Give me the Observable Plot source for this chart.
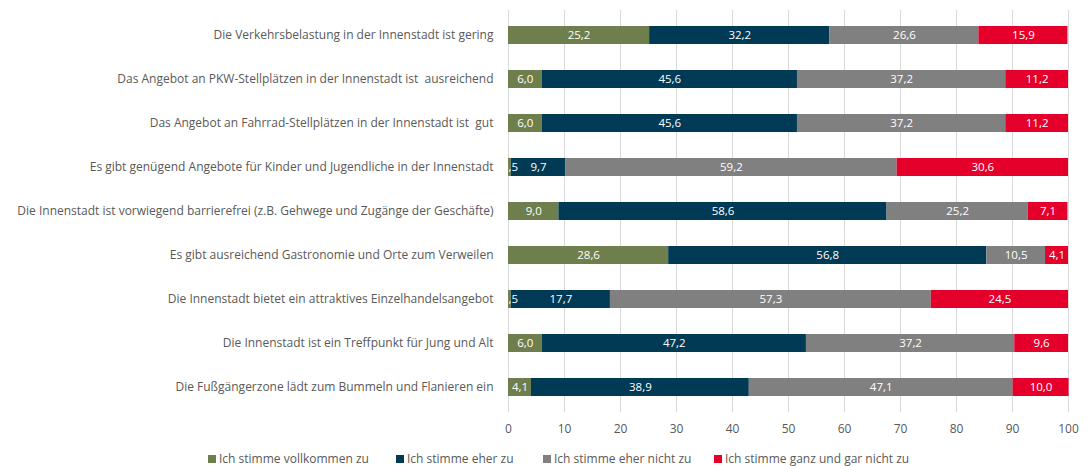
<!DOCTYPE html>
<html>
<head>
<meta charset="utf-8">
<script src="https://cdn.jsdelivr.net/npm/d3@7"></script>
<script src="https://cdn.jsdelivr.net/npm/@observablehq/plot@0.6"></script>
<style>
  body { margin: 0; background: #fff; font-family: "Open Sans", sans-serif; }
  #legend { position: relative; height: 20px; font-size: 12px; color: #595959; }
  .item { position: absolute; top: 4px; display: flex; align-items: center; }
  .sw { width: 8px; height: 8px; margin-right: 3px; }
</style>
</head>
<body>
<div id="chart"></div>
<div id="legend"></div>
<script>
const categories = [
  "Die Verkehrsbelastung in der Innenstadt ist gering",
  "Das Angebot an PKW-Stellplätzen in der Innenstadt ist  ausreichend",
  "Das Angebot an Fahrrad-Stellplätzen in der Innenstadt ist  gut",
  "Es gibt genügend Angebote für Kinder und Jugendliche in der Innenstadt",
  "Die Innenstadt ist vorwiegend barrierefrei (z.B. Gehwege und Zugänge der Geschäfte)",
  "Es gibt ausreichend Gastronomie und Orte zum Verweilen",
  "Die Innenstadt bietet ein attraktives Einzelhandelsangebot",
  "Die Innenstadt ist ein Treffpunkt für Jung und Alt",
  "Die Fußgängerzone lädt zum Bummeln und Flanieren ein"
];
const seriesNames = [
  "Ich stimme vollkommen zu",
  "Ich stimme eher zu",
  "Ich stimme eher nicht zu",
  "Ich stimme ganz und gar nicht zu"
];
const seriesColors = ["#6E7F4D", "#003A55", "#808080", "#E4002B"];
const vollkommen = [25.2, 6.0, 6.0, 0.5, 9.0, 28.6, 0.5, 6.0, 4.1];
const eher = [32.2, 45.6, 45.6, 9.7, 58.6, 56.8, 17.7, 47.2, 38.9];
const eherNicht = [26.6, 37.2, 37.2, 59.2, 25.2, 10.5, 57.3, 37.2, 47.1];
const garNicht = [15.9, 11.2, 11.2, 30.6, 7.1, 4.1, 24.5, 9.6, 10.0];
const xTicks = [0, 10, 20, 30, 40, 50, 60, 70, 80, 90, 100];

const seriesValues = [vollkommen, eher, eherNicht, garNicht];
const data = [];
categories.forEach((c, i) => {
  seriesNames.forEach((s, j) => {
    data.push({category: c, series: s, order: j, value: seriesValues[j][i]});
  });
});
const fmt = v => v.toFixed(1).replace(".", ",");

const chart = Plot.plot({
  width: 1090,
  height: 446,
  marginLeft: 508,
  marginRight: 22,
  marginTop: 10,
  marginBottom: 34,
  style: {fontFamily: "Open Sans, sans-serif", fontSize: "12px", color: "#595959", background: "#fff"},
  x: {domain: [0, 100], ticks: xTicks, tickSize: 0, tickPadding: 12, label: null},
  y: {domain: categories, tickSize: 0, tickPadding: 15, label: null, paddingInner: 0.6, paddingOuter: 0.3},
  color: {domain: seriesNames, range: seriesColors},
  marks: [
    Plot.gridX(xTicks, {stroke: "#d9d9d9", strokeOpacity: 1}),
    Plot.barX(data, Plot.stackX({x: "value", y: "category", fill: "series", order: "order", inset: 0})),
    Plot.text(data, Plot.stackX({
      x: "value", y: "category", z: "series", order: "order",
      text: d => fmt(d.value), fill: "white", fontSize: 11.5, clip: true
    }))
  ]
});
document.getElementById("chart").appendChild(chart);

const legend = document.getElementById("legend");
const lx = [208, 396, 543, 714];
seriesNames.forEach((s, i) => {
  const el = document.createElement("div");
  el.className = "item";
  el.style.left = lx[i] + "px";
  el.innerHTML = `<span class="sw" style="background:${seriesColors[i]}"></span><span>${s}</span>`;
  legend.appendChild(el);
});
</script>
</body>
</html>
